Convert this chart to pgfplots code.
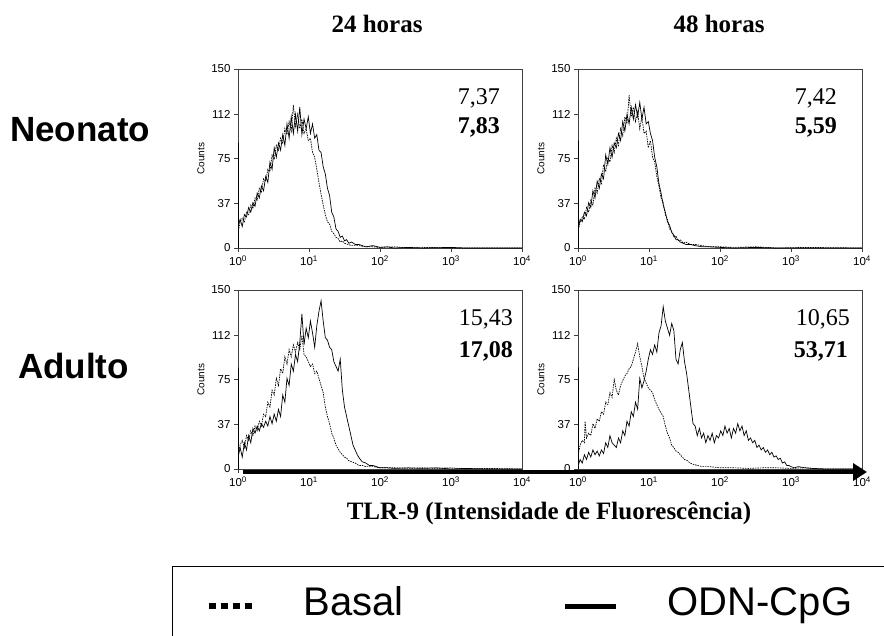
\documentclass[border=0pt]{standalone}
\usepackage{fontspec}
\setmainfont{Liberation Serif}
\newfontfamily\arial{Liberation Sans}
\usepackage{pgfplots}
\pgfplotsset{compat=1.18}
\usetikzlibrary{arrows.meta}

\pgfplotsset{
  facs/.style={
    scale only axis, width=284pt, height=179pt,
    xmin=0, xmax=4, ymin=0, ymax=150,
    xtick={0,1,2,3,4},
    xticklabels={10\textsuperscript{0},10\textsuperscript{1},10\textsuperscript{2},10\textsuperscript{3},10\textsuperscript{4}},
    ytick={0,37,75,112,150},
    tick align=outside, tick pos=left,
    major tick length=4pt,
    axis line style={black!75, line width=0.8pt},
    every tick/.style={black!75, line width=0.8pt},
    tick label style={font=\arial\fontsize{11.5}{12}\selectfont},
    /pgf/number format/assume math mode=true,
    ylabel={Counts},
    ylabel style={font=\arial\fontsize{10}{11}\selectfont},
  },
  solidc/.style={black, line width=0.7pt, forget plot},
  dotc/.style={black, line width=0.7pt, dash pattern=on 1.5pt off 1pt, forget plot},
}

\begin{document}
\begin{tikzpicture}
\path[use as bounding box] (0pt,0pt) rectangle (884pt,-635pt);

% Panel 1: Neonato 24 h
\begin{axis}[facs, at={(238pt,-248pt)}, anchor=south west]
\addplot[dotc] coordinates {(0.006,85) (0.008,15) (0.03,22) (0.06,25) (0.09,22) (0.12,30) (0.15,28) (0.18,36) (0.21,33) (0.24,42) (0.27,40) (0.30,50) (0.33,47) (0.36,58) (0.39,56) (0.42,66) (0.45,64) (0.48,78) (0.51,74) (0.54,86) (0.57,82) (0.60,92) (0.63,88) (0.66,100) (0.69,95) (0.72,106) (0.75,98) (0.78,120) (0.81,102) (0.84,112) (0.87,100) (0.90,108) (0.93,96) (0.96,100) (0.99,90) (1.02,92) (1.05,80) (1.08,76) (1.11,66) (1.14,55) (1.17,45) (1.20,36) (1.23,28) (1.26,22) (1.29,20) (1.32,14) (1.35,12) (1.38,9) (1.41,8) (1.44,5) (1.47,6) (1.50,4) (1.55,3) (1.60,2) (1.7,2) (1.8,1) (1.9,1) (2.0,0.5) (2.2,1) (2.4,0) (2.7,0.5) (3.0,0) (4,0)};
\addplot[solidc] coordinates {(0.006,0) (0.006,88) (0.009,20) (0.03,24) (0.06,18) (0.09,28) (0.12,26) (0.15,34) (0.18,30) (0.21,38) (0.24,35) (0.27,46) (0.30,42) (0.33,52) (0.36,48) (0.39,60) (0.42,55) (0.45,72) (0.48,66) (0.51,84) (0.54,76) (0.57,88) (0.60,82) (0.63,95) (0.66,86) (0.69,104) (0.72,92) (0.75,110) (0.78,96) (0.81,112) (0.84,98) (0.87,118) (0.90,95) (0.93,108) (0.96,100) (0.99,110) (1.02,96) (1.05,104) (1.08,92) (1.11,95) (1.14,82) (1.17,80) (1.20,68) (1.23,62) (1.26,50) (1.29,44) (1.32,30) (1.35,26) (1.38,16) (1.41,14) (1.44,9) (1.47,10) (1.50,6) (1.53,7) (1.56,4) (1.60,5) (1.65,3) (1.70,3) (1.75,2) (1.80,1) (1.9,2) (2.0,0.5) (2.1,1) (2.2,0) (2.4,0.5) (2.6,0) (3.0,0.5) (3.2,0) (4,0)};
\end{axis}

% Panel 2: Neonato 48 h
\begin{axis}[facs, at={(578pt,-248pt)}, anchor=south west]
\addplot[dotc] coordinates {(0.006,88) (0.008,16) (0.03,22) (0.06,26) (0.09,24) (0.12,34) (0.15,30) (0.18,40) (0.21,36) (0.24,50) (0.27,46) (0.30,58) (0.33,54) (0.36,70) (0.39,64) (0.42,76) (0.45,72) (0.48,86) (0.51,80) (0.54,92) (0.57,86) (0.60,100) (0.63,94) (0.66,110) (0.69,104) (0.72,128) (0.75,110) (0.78,118) (0.81,106) (0.84,114) (0.87,100) (0.90,110) (0.93,96) (0.96,98) (0.99,84) (1.02,90) (1.05,76) (1.08,72) (1.11,60) (1.14,52) (1.17,42) (1.20,38) (1.23,28) (1.26,24) (1.29,16) (1.32,14) (1.35,9) (1.38,10) (1.41,6) (1.44,7) (1.48,4) (1.52,5) (1.58,3) (1.65,3) (1.75,2) (1.85,1) (2.0,1) (2.2,0.5) (2.5,1) (2.8,0) (3.2,0.5) (4,0)};
\addplot[solidc] coordinates {(0.006,0) (0.006,90) (0.009,18) (0.03,24) (0.06,22) (0.09,30) (0.12,27) (0.15,38) (0.18,34) (0.21,48) (0.24,42) (0.27,56) (0.30,50) (0.33,62) (0.36,58) (0.39,78) (0.42,70) (0.45,84) (0.48,76) (0.51,88) (0.54,84) (0.57,96) (0.60,90) (0.63,106) (0.66,98) (0.69,112) (0.72,104) (0.75,118) (0.78,108) (0.81,120) (0.84,110) (0.87,122) (0.90,108) (0.93,118) (0.96,104) (0.99,106) (1.02,96) (1.05,90) (1.08,76) (1.11,68) (1.14,54) (1.17,46) (1.20,36) (1.23,30) (1.26,22) (1.29,19) (1.32,13) (1.35,11) (1.38,7) (1.41,7) (1.44,5) (1.48,4) (1.52,3) (1.58,3) (1.65,2) (1.75,1) (1.85,1) (2.0,0.5) (2.2,0) (2.5,0.5) (2.8,0) (4,0)};
\end{axis}

% Panel 3: Adulto 24 h (carries the legend)
\begin{axis}[facs, at={(238pt,-469pt)}, anchor=south west,
  legend columns=2,
  legend cell align=left,
  legend style={
    at={(axis description cs:-0.2324,-0.5419)}, anchor=north west,
    draw=black, line width=1.3pt,
    font=\arial\fontsize{40}{40}\selectfont,
    inner xsep=33pt, inner ysep=20pt,
    nodes={inner sep=0pt, text height=29pt, text depth=10pt},
    /tikz/every odd column/.append style={column sep=49pt},
    /tikz/every even column/.append style={column sep=159pt},
  }]
\addlegendimage{legend image code/.code={\draw[black, line width=6pt, dash pattern=on 7pt off 5pt] (0pt,0pt) -- (43pt,0pt);}}
\addlegendentry{Basal}
\addlegendimage{legend image code/.code={\draw[black, line width=5pt] (0pt,0pt) -- (51pt,0pt);}}
\addlegendentry{ODN-CpG}
\addplot[dotc] coordinates {(0.006,80) (0.008,14) (0.03,20) (0.06,24) (0.09,18) (0.12,28) (0.15,24) (0.18,32) (0.21,28) (0.24,36) (0.27,32) (0.30,40) (0.33,36) (0.36,46) (0.39,44) (0.42,56) (0.45,52) (0.48,66) (0.51,62) (0.54,76) (0.57,70) (0.60,84) (0.63,80) (0.66,94) (0.69,88) (0.72,100) (0.75,94) (0.78,104) (0.81,98) (0.84,106) (0.87,100) (0.90,112) (0.93,96) (0.96,94) (0.99,90) (1.02,86) (1.05,88) (1.08,80) (1.11,82) (1.14,76) (1.17,70) (1.20,64) (1.23,52) (1.26,44) (1.29,38) (1.32,30) (1.35,26) (1.38,20) (1.41,17) (1.44,14) (1.47,12) (1.50,10) (1.53,9) (1.56,7) (1.60,6) (1.65,5) (1.70,3) (1.75,3) (1.80,2) (1.90,2) (2.0,1) (2.2,1) (2.4,0.5) (2.6,1) (2.8,0.5) (3.0,1) (3.2,0) (3.5,0.5) (4,0)};
\addplot[solidc] coordinates {(0.006,0) (0.006,85) (0.009,12) (0.03,18) (0.06,10) (0.09,22) (0.12,16) (0.15,28) (0.18,22) (0.21,34) (0.24,30) (0.27,36) (0.30,32) (0.33,38) (0.36,35) (0.39,40) (0.42,36) (0.45,44) (0.48,38) (0.51,46) (0.54,40) (0.57,50) (0.60,44) (0.63,62) (0.66,56) (0.69,76) (0.72,70) (0.75,88) (0.78,82) (0.81,96) (0.84,90) (0.87,106) (0.90,130) (0.93,104) (0.96,118) (0.99,110) (1.02,124) (1.05,114) (1.08,102) (1.11,120) (1.14,132) (1.17,141) (1.20,124) (1.23,110) (1.26,108) (1.29,102) (1.32,100) (1.35,90) (1.38,86) (1.41,82) (1.44,92) (1.47,66) (1.50,52) (1.53,44) (1.56,36) (1.59,28) (1.62,20) (1.65,16) (1.68,12) (1.71,9) (1.75,6) (1.80,5) (1.85,3) (1.90,3) (1.95,2) (2.0,1) (2.1,1) (2.2,0.5) (2.4,1) (2.6,0.5) (2.8,1) (3.0,0) (3.2,0.5) (3.5,0) (4,0)};
\end{axis}

% Panel 4: Adulto 48 h
\begin{axis}[facs, at={(578pt,-469pt)}, anchor=south west]
\addplot[dotc] coordinates {(0.006,85) (0.008,14) (0.03,20) (0.06,24) (0.09,22) (0.10,40) (0.12,26) (0.15,30) (0.18,28) (0.21,38) (0.24,34) (0.27,42) (0.30,40) (0.33,48) (0.36,46) (0.39,56) (0.42,54) (0.45,64) (0.48,60) (0.51,75) (0.54,66) (0.57,62) (0.60,70) (0.63,74) (0.66,78) (0.69,80) (0.72,84) (0.75,86) (0.78,92) (0.81,98) (0.84,105) (0.87,94) (0.90,86) (0.93,76) (0.96,72) (0.99,68) (1.02,66) (1.05,64) (1.08,58) (1.11,54) (1.14,50) (1.17,47) (1.20,44) (1.23,36) (1.26,30) (1.29,26) (1.32,20) (1.35,18) (1.38,15) (1.41,14) (1.44,12) (1.47,10) (1.50,8) (1.54,7) (1.58,5) (1.62,4) (1.68,3) (1.75,2) (1.85,2) (2.0,1) (2.2,1) (2.4,0.5) (2.6,1) (2.8,1) (3.0,0.5) (3.2,1) (3.4,0) (4,0)};
\addplot[solidc] coordinates {(0.006,0) (0.006,85) (0.009,4) (0.03,8) (0.06,5) (0.09,12) (0.12,8) (0.15,14) (0.18,10) (0.21,16) (0.24,12) (0.27,15) (0.30,11) (0.33,16) (0.36,13) (0.39,22) (0.42,18) (0.45,28) (0.48,22) (0.51,20) (0.54,18) (0.57,26) (0.60,22) (0.63,32) (0.66,28) (0.69,40) (0.72,36) (0.75,48) (0.78,44) (0.81,56) (0.84,50) (0.87,76) (0.90,68) (0.93,74) (0.96,82) (0.99,92) (1.02,100) (1.05,96) (1.08,104) (1.11,98) (1.14,114) (1.17,120) (1.20,136) (1.23,124) (1.26,118) (1.29,112) (1.32,122) (1.35,116) (1.38,92) (1.41,88) (1.44,100) (1.47,106) (1.50,90) (1.53,80) (1.56,66) (1.59,52) (1.62,38) (1.65,36) (1.68,28) (1.71,34) (1.74,26) (1.77,30) (1.80,22) (1.83,28) (1.86,24) (1.89,30) (1.92,22) (1.95,28) (1.98,26) (2.01,32) (2.04,28) (2.07,36) (2.10,30) (2.13,34) (2.16,26) (2.19,34) (2.22,30) (2.25,38) (2.28,32) (2.31,36) (2.34,28) (2.37,32) (2.40,24) (2.43,26) (2.46,22) (2.49,24) (2.52,18) (2.55,20) (2.58,16) (2.61,18) (2.64,14) (2.67,16) (2.70,12) (2.73,14) (2.76,10) (2.79,11) (2.82,8) (2.85,9) (2.88,5) (2.91,6) (2.94,3) (2.97,3) (3.0,2) (3.05,1) (3.1,2) (3.2,1) (3.3,0.5) (3.5,0) (4,0)};
\end{axis}

% arrow along the bottom row
\draw[black, line width=3.5pt, -{Triangle[length=14pt, width=17pt]}] (243pt,-472pt) -- (867pt,-472pt);

% titles and labels
\begin{scope}[every node/.style={inner sep=0pt}]
\node[anchor=base, font=\bfseries\fontsize{25}{30}\selectfont] at (377pt,-32pt) {24 horas};
\node[anchor=base, font=\bfseries\fontsize{25}{30}\selectfont] at (719pt,-32pt) {48 horas};
\node[anchor=base west, font=\arial\bfseries\fontsize{35}{40}\selectfont] at (10pt,-141pt) {Neonato};
\node[anchor=base west, font=\arial\bfseries\fontsize{35}{40}\selectfont] at (18pt,-378pt) {Adulto};
\node[anchor=base, font=\bfseries\fontsize{25}{30}\selectfont] at (549pt,-519pt) {TLR-9 (Intensidade de Fluorescência)};
\node[anchor=base east, font=\fontsize{24}{28}\selectfont] at (500pt,-104pt) {7,37};
\node[anchor=base east, font=\bfseries\fontsize{24}{28}\selectfont] at (500pt,-133pt) {7,83};
\node[anchor=base east, font=\fontsize{24}{28}\selectfont] at (837pt,-104pt) {7,42};
\node[anchor=base east, font=\bfseries\fontsize{24}{28}\selectfont] at (837pt,-133pt) {5,59};
\node[anchor=base east, font=\fontsize{24}{28}\selectfont] at (513pt,-325pt) {15,43};
\node[anchor=base east, font=\bfseries\fontsize{24}{28}\selectfont] at (513pt,-357pt) {17,08};
\node[anchor=base east, font=\fontsize{24}{28}\selectfont] at (850pt,-325pt) {10,65};
\node[anchor=base east, font=\bfseries\fontsize{24}{28}\selectfont] at (848pt,-357pt) {53,71};
\end{scope}
\end{tikzpicture}
\end{document}
